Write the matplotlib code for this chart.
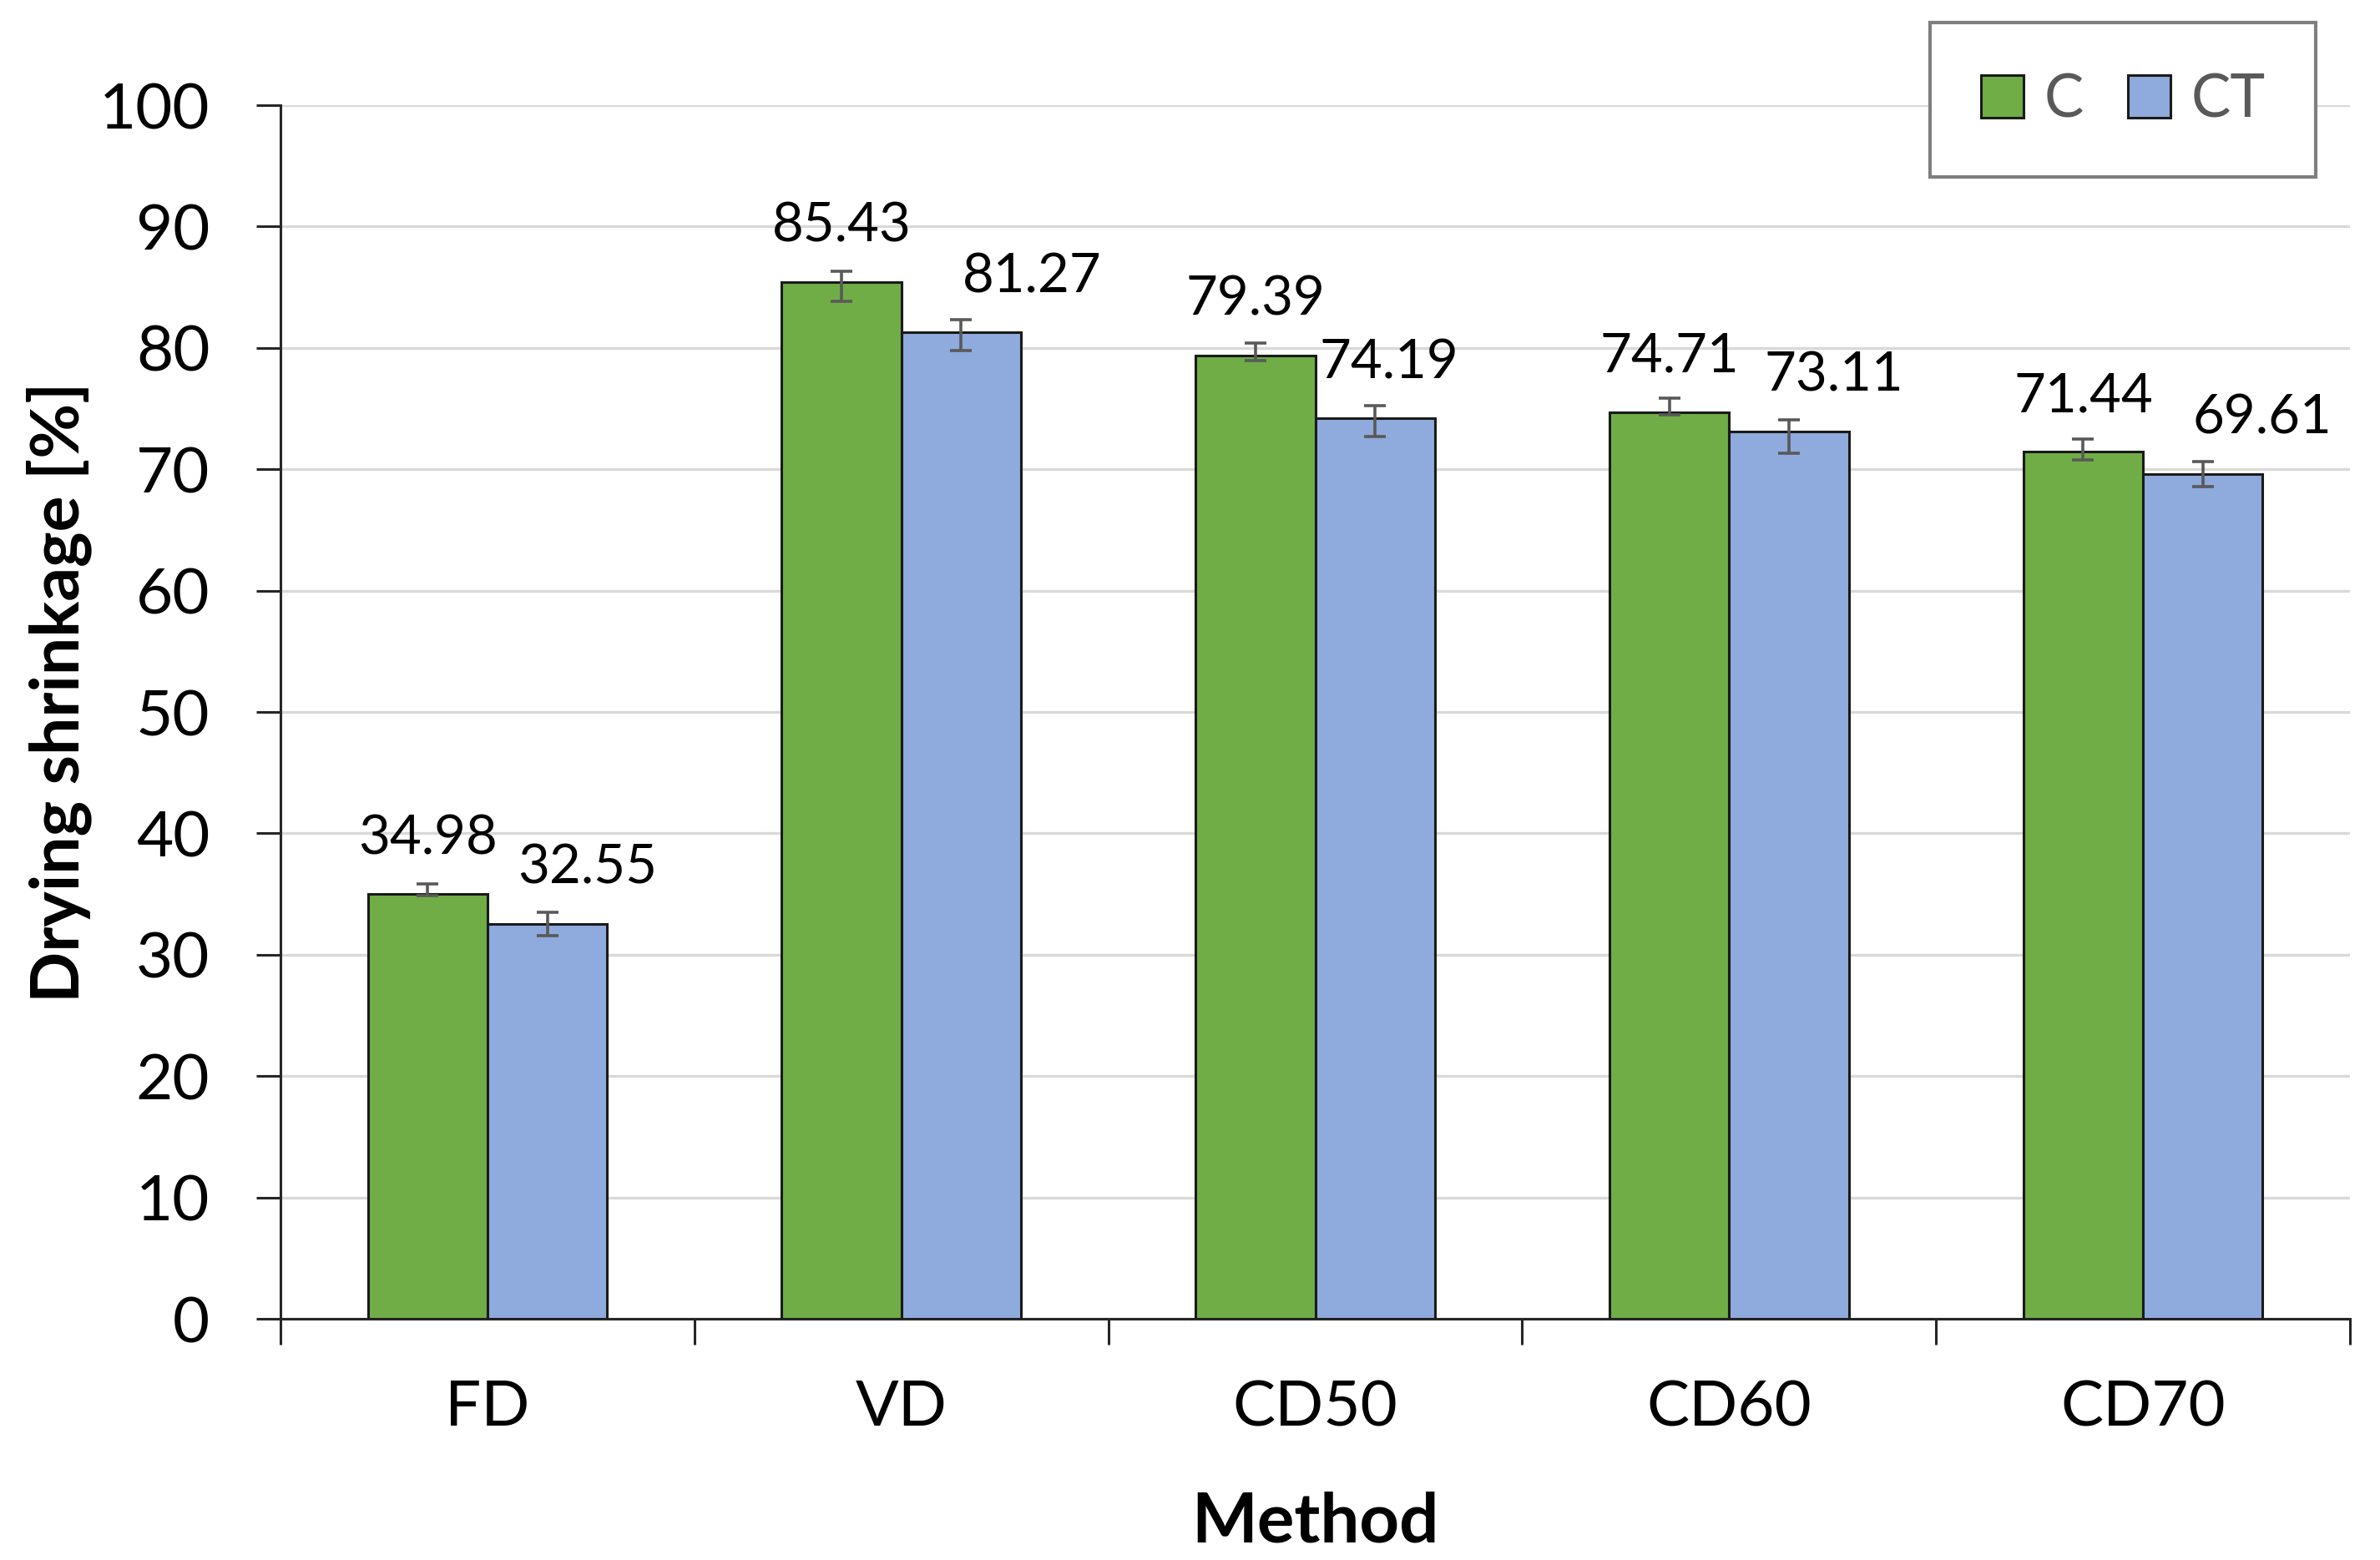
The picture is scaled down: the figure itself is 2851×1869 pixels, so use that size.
import matplotlib
matplotlib.use("Agg")
import matplotlib.pyplot as plt
import numpy as np

plt.rcParams['font.family'] = ['Lato', 'DejaVu Sans']

methods = ['FD', 'VD', 'CD50', 'CD60', 'CD70']
c_values = [34.98, 85.43, 79.39, 74.71, 71.44]
ct_values = [32.55, 81.27, 74.19, 73.11, 69.61]
c_err_low = [0.11, 1.60, 0.46, 0.23, 0.68]
c_err_high = [0.87, 0.91, 1.03, 1.14, 1.03]
ct_err_low = [0.96, 1.48, 1.46, 1.78, 1.03]
ct_err_high = [0.91, 1.05, 1.03, 0.96, 1.03]
series_names = ['C', 'CT']
y_ticks = [0, 10, 20, 30, 40, 50, 60, 70, 80, 90, 100]

# label horizontal offsets (points) for CT labels as placed in the original
ct_label_dx = [35, 61, 12, 39, 51]

W, H = 2851, 1869
fig = plt.figure(figsize=(W / 100, H / 100), dpi=100)
ax = fig.add_axes([336 / W, 1 - 1580 / H, (2815 - 336) / W, (1580 - 126) / H])

green = '#70AD47'
blue = '#8FAADC'
edge = '#1a1a1a'
ecol = '#595959'

x = np.arange(len(methods))
bw = 0.289

b1 = ax.bar(x - bw / 2, c_values, bw, color=green, edgecolor=edge, linewidth=2.2,
            label=series_names[0], zorder=3)
b2 = ax.bar(x + bw / 2, ct_values, bw, color=blue, edgecolor=edge, linewidth=2.2,
            label=series_names[1], zorder=3)

ax.errorbar(x - bw / 2, c_values, yerr=[c_err_low, c_err_high], fmt='none',
            ecolor=ecol, elinewidth=2.6, capsize=9.4, capthick=2.6, zorder=4)
ax.errorbar(x + bw / 2, ct_values, yerr=[ct_err_low, ct_err_high], fmt='none',
            ecolor=ecol, elinewidth=2.6, capsize=9.4, capthick=2.6, zorder=4)

# data labels
for i in range(len(methods)):
    ax.annotate(f"{c_values[i]:.2f}", (x[i] - bw / 2, c_values[i]),
                xytext=(0, 34.6), textcoords='offset points',
                ha='center', va='baseline', fontsize=47, color='black', zorder=5)
    ax.annotate(f"{ct_values[i]:.2f}", (x[i] + bw / 2, ct_values[i]),
                xytext=(ct_label_dx[i], 34.6), textcoords='offset points',
                ha='center', va='baseline', fontsize=47, color='black', zorder=5)

ax.set_xlim(-0.5, len(methods) - 0.5)
ax.set_ylim(0, 100)
ax.set_yticks(y_ticks)
ax.set_yticklabels([str(t) for t in y_ticks])
ax.set_xticks(x)
ax.set_xticklabels(methods)
ax.set_xticks(np.arange(len(methods) + 1) - 0.5, minor=True)

ax.grid(axis='y', color='#D9D9D9', linewidth=2.4, zorder=0)
ax.set_axisbelow(True)

for s in ['top', 'right']:
    ax.spines[s].set_visible(False)
for s in ['left', 'bottom']:
    ax.spines[s].set_color('#262626')
    ax.spines[s].set_linewidth(2.2)

ax.tick_params(axis='y', which='major', direction='out', length=21, width=2.2,
               color='#262626', labelsize=55, pad=40)
ax.tick_params(axis='x', which='major', length=0, labelsize=55, pad=52)
ax.tick_params(axis='x', which='minor', direction='out', length=22, width=2.2,
               color='#262626')

fig.text(1575 / W, 1 - 1847 / H, 'Method', ha='center', va='baseline',
         fontsize=60, fontweight='bold')
fig.text(71 / W, 1 - 829 / H, 'Drying shrinkage [%]', ha='center', va='center',
         rotation=90, fontsize=58, fontweight='bold')

leg = fig.legend(handles=[b1, b2], labels=series_names, ncol=2,
                 loc='upper right', bbox_to_anchor=(2774 / W, 1 - 27 / H),
                 bbox_transform=fig.transFigure, borderaxespad=0,
                 fontsize=51, handlelength=0.72, handleheight=0.72,
                 handletextpad=0.35, columnspacing=0.75, borderpad=0.85,
                 fancybox=False, framealpha=1, edgecolor='#7F7F7F',
                 labelcolor='#595959')
leg.get_frame().set_linewidth(3)

fig.savefig('out.png', dpi=100, facecolor='white')
